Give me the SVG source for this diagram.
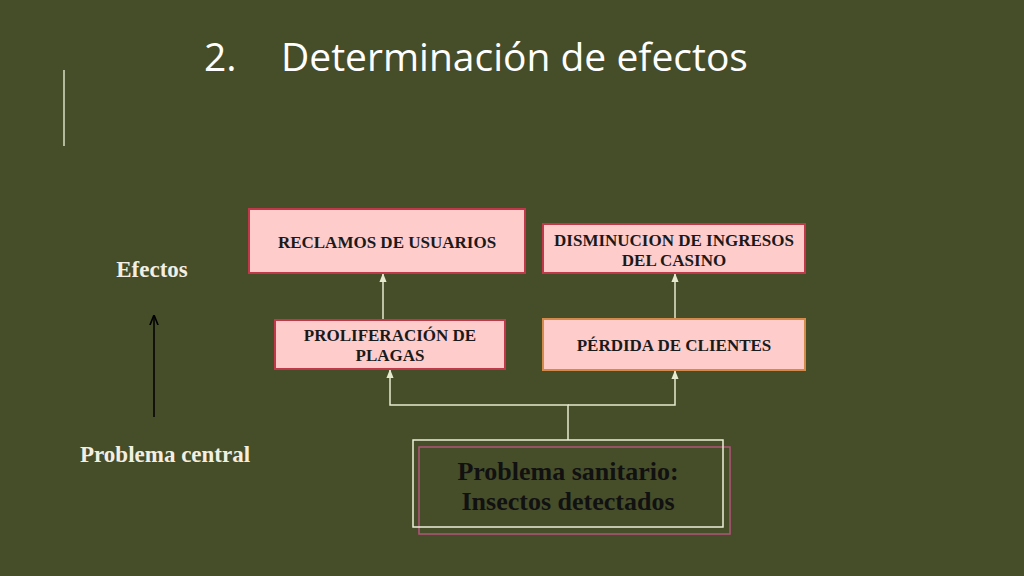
<svg xmlns="http://www.w3.org/2000/svg" width="1024" height="576" viewBox="0 0 1024 576">
<style>
.box{fill:#FFCCCC;stroke:#C0394B;stroke-width:2}
.bt{font-family:"Liberation Serif",serif;font-weight:bold;font-size:17px;fill:#1a1a1a;text-anchor:middle}
.side{font-family:"Liberation Serif",serif;font-weight:bold;font-size:23px;fill:#F2EFE2}
.con{fill:none;stroke:#E6EACF;stroke-width:1.5}
</style>
<defs>
<marker id="ah" viewBox="0 0 10 10" refX="9" refY="5" markerWidth="6" markerHeight="6" orient="auto"><path d="M0,1 L10,5 L0,9 z" fill="#E6EACF"/></marker>
<marker id="bk" viewBox="0 0 10 10" refX="9" refY="5" markerWidth="7" markerHeight="7" orient="auto"><path d="M0,1 L10,5 L0,9" fill="none" stroke="#000" stroke-width="1.5"/></marker>
</defs>
<rect width="1024" height="576" fill="#464D29"/>
<line x1="64" y1="70" x2="64" y2="146" stroke="#B3B99C" stroke-width="2"/>
<text x="204" y="71" font-family="'Open Sans',sans-serif" font-size="39" fill="#FFFFFF">2.</text>
<text x="281" y="71" font-family="'Open Sans',sans-serif" font-size="39" fill="#FFFFFF">Determinación de efectos</text>
<g id="connectors">
<line class="con" x1="383" y1="320" x2="383" y2="274" marker-end="url(#ah)"/>
<line class="con" x1="675" y1="319" x2="675" y2="274" marker-end="url(#ah)"/>
<polyline class="con" points="568,440 568,405 390,405 390,370" marker-end="url(#ah)"/>
<polyline class="con" points="568,405 675,405 675,371" marker-end="url(#ah)"/>
<line x1="154" y1="417" x2="154" y2="316" stroke="#000" stroke-width="1.5" marker-end="url(#bk)"/>
</g>
<g id="reclamos">
<rect class="box" x="249" y="209" width="276" height="64"/>
<text class="bt" x="387" y="248">RECLAMOS DE USUARIOS</text>
</g>
<g id="disminucion">
<rect class="box" x="543" y="224" width="262" height="49"/>
<text class="bt" x="674" y="246">DISMINUCION DE INGRESOS</text>
<text class="bt" x="674" y="266">DEL CASINO</text>
</g>
<g id="proliferacion">
<rect class="box" x="275" y="320" width="230" height="49"/>
<text class="bt" x="390" y="341">PROLIFERACIÓN DE</text>
<text class="bt" x="390" y="361">PLAGAS</text>
</g>
<g id="perdida">
<rect class="box" x="543" y="319" width="262" height="51" style="stroke:#D48A4A"/>
<text class="bt" x="674" y="351">PÉRDIDA DE CLIENTES</text>
</g>
<g id="problema">
<rect x="419" y="447" width="311" height="87" fill="none" stroke="#B0557A" stroke-width="1.5"/>
<rect x="413" y="440" width="310" height="87" fill="none" stroke="#EDEFD8" stroke-width="1.5"/>
<text x="568" y="480" font-family="'Liberation Serif',serif" font-weight="bold" font-size="26" fill="#111" text-anchor="middle">Problema sanitario:</text>
<text x="568" y="510" font-family="'Liberation Serif',serif" font-weight="bold" font-size="26" fill="#111" text-anchor="middle">Insectos detectados</text>
</g>
<g id="labels">
<text class="side" x="152" y="277" text-anchor="middle">Efectos</text>
<text class="side" x="80" y="462">Problema central</text>
</g>
</svg>
